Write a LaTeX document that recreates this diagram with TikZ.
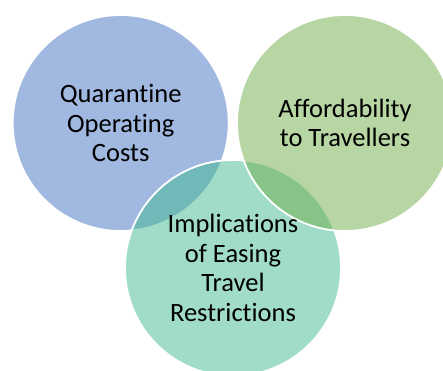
\documentclass[tikz,border=0pt]{standalone}
\usepackage{fontspec}
\setmainfont[Ligatures={NoCommon,NoRare}]{Carlito}
\definecolor{cblue}{HTML}{4472C4}
\definecolor{cteal}{HTML}{41B991}
\definecolor{cgreen}{HTML}{70AD47}
\begin{document}
\begin{tikzpicture}[x=1pt,y=-1pt,
  bubble/.style={circle,minimum size=216pt,inner sep=0pt,draw=white,line width=1.8pt,fill opacity=0.5,text opacity=1},
  lbl/.style={align=center,font=\fontsize{26.5}{29.7}\selectfont,text=black}]
\useasboundingbox (0,0) rectangle (443,370);
\node[bubble,fill=cblue] (q) at (120.7,123) {};
\node[bubble,fill=cteal] (i) at (233,268) {};
\node[bubble,fill=cgreen] (a) at (345,123) {};
\node[lbl] (qt) at (q.center) {Quarantine\\Operating\\Costs};
\node[lbl] (at) at (a.center) {Affordability\\to Travellers};
\node[lbl] (it) at (i.center) {Implications\\of Easing\\Travel\\Restrictions};
\end{tikzpicture}
\end{document}
